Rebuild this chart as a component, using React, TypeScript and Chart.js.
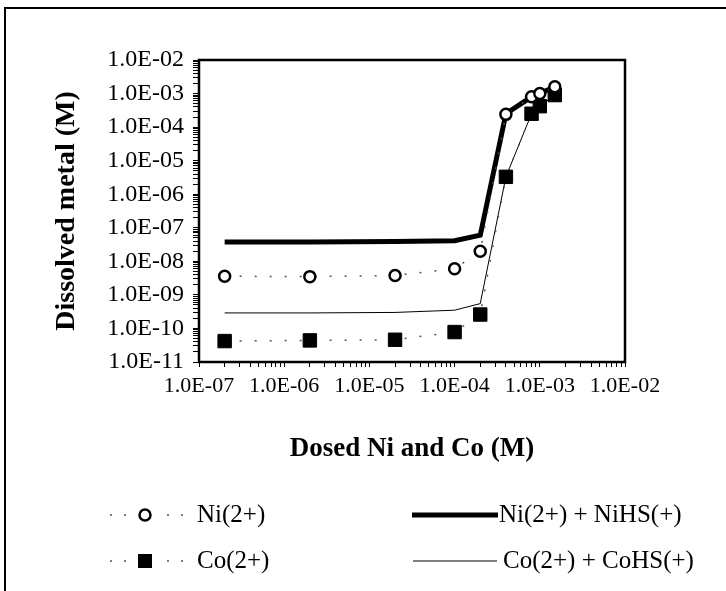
import React, { useEffect, useRef } from 'react';
import { Chart, registerables } from 'chart.js';

Chart.register(...registerables);

// ---- data ----
const DOSED = [2e-7, 2e-6, 2e-5, 1e-4, 2e-4, 4e-4, 8e-4, 1e-3, 1.5e-3];
const NI_DATA = [3.6e-9, 3.5e-9, 3.8e-9, 6.0e-9, 2.0e-8, 2.4e-4, 8.0e-4, 1.0e-3, 1.6e-3];
const CO_DATA = [4.2e-11, 4.4e-11, 4.6e-11, 7.8e-11, 2.6e-10, 3.3e-6, 2.5e-4, 4.2e-4, 9.0e-4];
const NI_MODEL = [3.8e-8, 3.8e-8, 3.9e-8, 4.1e-8, 6.0e-8, 2.5e-4, 8.0e-4, 1.0e-3, 1.6e-3];
const CO_MODEL = [2.9e-10, 2.9e-10, 3.0e-10, 3.5e-10, 5.5e-10, 3.3e-6, 2.5e-4, 4.2e-4, 9.0e-4];

const X_EXPONENTS = [-7, -6, -5, -4, -3, -2];
const X_TICK_LABELS = ['1.0E-07', '1.0E-06', '1.0E-05', '1.0E-04', '1.0E-03', '1.0E-02'];
const Y_EXPONENTS = [-11, -10, -9, -8, -7, -6, -5, -4, -3, -2];
const Y_TICK_LABELS = ['1.0E-11', '1.0E-10', '1.0E-09', '1.0E-08', '1.0E-07', '1.0E-06', '1.0E-05', '1.0E-04', '1.0E-03', '1.0E-02'];
const MINOR_STEPS = [1, 2, 3, 4, 5, 6, 7, 8, 9];

const SERIES_LABELS = ['Ni(2+)', 'Co(2+)', 'Ni(2+) + NiHS(+)', 'Co(2+) + CoHS(+)'];
const X_TITLE = 'Dosed Ni and Co (M)';
const Y_TITLE = 'Dissolved metal (M)';

const FONT = '"Liberation Serif", "Times New Roman", serif';

function buildTicks(exps: number[]) {
  const out: { value: number }[] = [];
  for (let i = 0; i < exps.length; i++) {
    const e = exps[i];
    if (i === exps.length - 1) {
      out.push({ value: Math.pow(10, e) });
    } else {
      for (const s of MINOR_STEPS) out.push({ value: s * Math.pow(10, e) });
    }
  }
  return out;
}

function labelFor(value: number, exps: number[], labels: string[]) {
  const l = Math.log10(value);
  const r = Math.round(l);
  if (Math.abs(l - r) > 1e-6) return '';
  const idx = exps.indexOf(r);
  return idx >= 0 ? labels[idx] : '';
}

const framePlugin = {
  id: 'frameAndLegend',
  beforeDraw(chart: any) {
    const ctx = chart.ctx;
    ctx.save();
    ctx.fillStyle = '#ffffff';
    ctx.fillRect(0, 0, chart.width, chart.height);
    ctx.strokeStyle = '#000';
    ctx.lineWidth = 2;
    ctx.strokeRect(5, 8, 900, 800);
    ctx.restore();
  },
  afterDraw(chart: any) {
    const ctx = chart.ctx;
    const a = chart.chartArea;
    ctx.save();
    ctx.strokeStyle = '#000';
    ctx.lineWidth = 2.5;
    ctx.strokeRect(a.left, a.top, a.right - a.left, a.bottom - a.top);

    // legend
    const row1 = 515;
    const row2 = 561;
    ctx.font = '25px ' + FONT;
    ctx.textBaseline = 'middle';
    ctx.textAlign = 'left';
    ctx.fillStyle = '#000';

    const dots = (x1: number, x2: number, y: number) => {
      ctx.save();
      ctx.strokeStyle = '#555';
      ctx.lineWidth = 1.5;
      ctx.setLineDash([2, 12]);
      ctx.beginPath();
      ctx.moveTo(x1, y);
      ctx.lineTo(x2, y);
      ctx.stroke();
      ctx.restore();
    };

    const mx = 145;
    const tx = 197;
    // Ni data
    dots(110, 136, row1);
    dots(167, 192, row1);
    ctx.beginPath();
    ctx.arc(mx, row1, 5.5, 0, Math.PI * 2);
    ctx.fillStyle = '#fff';
    ctx.fill();
    ctx.lineWidth = 2.5;
    ctx.strokeStyle = '#000';
    ctx.stroke();
    ctx.fillStyle = '#000';
    ctx.fillText(SERIES_LABELS[0], tx, row1);

    // Co data
    dots(110, 136, row2);
    dots(167, 192, row2);
    ctx.fillRect(mx - 7, row2 - 7, 14, 14);
    ctx.fillText(SERIES_LABELS[1], tx, row2);

    // Ni model
    ctx.beginPath();
    ctx.lineWidth = 5;
    ctx.moveTo(412, row1);
    ctx.lineTo(498, row1);
    ctx.stroke();
    ctx.fillText(SERIES_LABELS[2], 499, row1);

    // Co model
    ctx.beginPath();
    ctx.lineWidth = 1;
    ctx.moveTo(413, row2);
    ctx.lineTo(497, row2);
    ctx.stroke();
    ctx.fillText(SERIES_LABELS[3], 503, row2);
    ctx.restore();
  },
};

export default function App() {
  const ref = useRef<HTMLCanvasElement | null>(null);

  useEffect(() => {
    if (!ref.current) return;
    const pts = (ys: number[]) => DOSED.map((x, i) => ({ x, y: ys[i] }));
    const chart = new Chart(ref.current, {
      type: 'line',
      data: {
        datasets: [
          {
            label: SERIES_LABELS[0],
            data: pts(NI_DATA),
            borderColor: '#555',
            borderWidth: 1.5,
            borderDash: [2, 13],
            pointStyle: 'circle',
            pointRadius: 5.5,
            pointBorderWidth: 2.5,
            pointBorderColor: '#000',
            pointBackgroundColor: '#fff',
            fill: false,
          },
          {
            label: SERIES_LABELS[1],
            data: pts(CO_DATA),
            borderColor: '#555',
            borderWidth: 1.5,
            borderDash: [2, 13],
            pointStyle: 'rect',
            pointRadius: 9.5,
            pointBorderWidth: 1,
            pointBorderColor: '#000',
            pointBackgroundColor: '#000',
            fill: false,
          },
          {
            label: SERIES_LABELS[2],
            data: pts(NI_MODEL),
            borderColor: '#000',
            borderWidth: 5,
            pointRadius: 0,
            fill: false,
          },
          {
            label: SERIES_LABELS[3],
            data: pts(CO_MODEL),
            borderColor: '#000',
            borderWidth: 1,
            pointRadius: 0,
            fill: false,
          },
        ],
      },
      options: {
        responsive: false,
        animation: false,
        events: [],
        layout: { padding: { left: 0, top: 60, right: 101, bottom: 119 } },
        plugins: { legend: { display: false }, tooltip: { enabled: false }, title: { display: false } },
        scales: {
          x: {
            type: 'logarithmic',
            min: 1e-7,
            max: 1e-2,
            afterFit: (s: any) => { s.height = 110; },
            afterBuildTicks: (s: any) => { s.ticks = buildTicks(X_EXPONENTS); },
            grid: { drawOnChartArea: false, tickLength: 5, color: '#000', lineWidth: 1 },
            border: { display: false },
            ticks: {
              autoSkip: false,
              maxRotation: 0,
              minRotation: 0,
              padding: 6,
              color: '#000',
              font: { family: FONT, size: 22 },
              callback: (v: any) => labelFor(Number(v), X_EXPONENTS, X_TICK_LABELS),
            },
            title: {
              display: true,
              text: X_TITLE,
              color: '#000',
              font: { family: FONT, size: 27, weight: 'bold' },
              padding: { top: 0, bottom: 7 },
            },
          },
          y: {
            type: 'logarithmic',
            min: 1e-11,
            max: 1e-2,
            afterFit: (s: any) => { s.width = 199; },
            afterBuildTicks: (s: any) => { s.ticks = buildTicks(Y_EXPONENTS); },
            grid: { drawOnChartArea: false, tickLength: 6, color: '#000', lineWidth: 1 },
            border: { display: false },
            ticks: {
              autoSkip: false,
              padding: 9,
              color: '#000',
              font: { family: FONT, size: 24 },
              callback: (v: any) => labelFor(Number(v), Y_EXPONENTS, Y_TICK_LABELS),
            },
            title: {
              display: true,
              text: Y_TITLE,
              color: '#000',
              font: { family: FONT, size: 28, weight: 'bold' },
              padding: { top: 50, bottom: 0 },
            },
          },
        },
      },
      plugins: [framePlugin],
    } as any);
    return () => chart.destroy();
  }, []);

  return (
    <div style={{ position: 'fixed', left: 0, top: 0, width: 726, height: 591, overflow: 'hidden', background: '#fff' }}>
      <canvas ref={ref} width={726} height={591} style={{ width: 726, height: 591, display: 'block' }} />
    </div>
  );
}
